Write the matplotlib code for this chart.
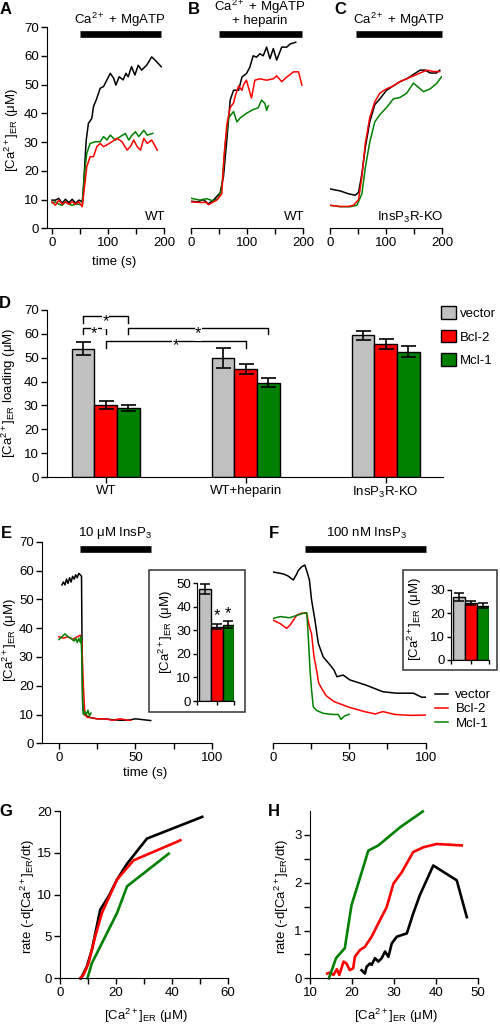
import matplotlib
matplotlib.use('Agg')
import matplotlib.pyplot as plt
from matplotlib.patches import Rectangle
from matplotlib.lines import Line2D

plt.rcParams['font.family'] = ['Liberation Sans', 'DejaVu Sans']
plt.rcParams['mathtext.fontset'] = 'custom'
plt.rcParams['mathtext.rm'] = 'Liberation Sans'
plt.rcParams['mathtext.it'] = 'Liberation Sans:italic'
plt.rcParams['mathtext.bf'] = 'Liberation Sans:bold'
plt.rcParams['mathtext.default'] = 'regular'
plt.rcParams['font.size'] = 9.5

W, H = 500, 1026
GRAY, RED, GREEN = '#c0c0c0', '#ff0000', '#008000'

# ---- data ----
# panel A: WT, Ca2+ + MgATP
a_vec_t = [0, 6, 12, 18, 24, 30, 36, 42, 48, 54, 56, 61, 65, 71, 74, 80, 86, 92, 98, 104, 110, 114, 120, 127, 132, 136,
           142, 148, 154, 160, 169, 178, 184, 195]
a_vec_y = [9.8, 9.8, 10.4, 8.7, 10.1, 8.9, 10.1, 8.7, 9.8, 9.2, 14, 30.6, 36.5, 38.2, 42.3, 45.2, 48.7, 49.3, 51.6, 53.9,
           52.2, 49.8, 52.7, 51.6, 53.9, 52.7, 56.2, 53.3, 56.7, 55, 56.7, 59.6, 58.5, 56.2]
a_bcl_t = [0, 6, 12, 18, 24, 30, 36, 42, 48, 54, 58, 62, 68, 74, 80, 86, 92, 98, 107, 116, 125, 134, 140, 146, 152, 158,
           164, 170, 178, 188]
a_bcl_y = [9.2, 8.0, 9.8, 8.4, 9.2, 8.4, 9.2, 8.4, 9.2, 7.5, 14.4, 21.4, 24.9, 24.9, 28.4, 29.5, 28.4, 29, 30.1, 31.3,
           30.1, 27.2, 28.4, 30.7, 28.4, 27.2, 31.3, 29.5, 30.7, 27.2]
a_mcl_t = [0, 6, 12, 18, 24, 30, 36, 42, 48, 54, 58, 62, 68, 77, 86, 92, 98, 104, 113, 122, 131, 137, 143, 149, 155, 164,
           170, 180]
a_mcl_y = [8.9, 9.2, 8.4, 8.0, 9.2, 8.4, 8.0, 8.4, 8.4, 8.0, 19.1, 26, 29.5, 30.1, 30.1, 31.9, 30.7, 32.4, 30.7, 31.9,
           33, 30.7, 32.4, 33.6, 31.9, 34.1, 32.4, 33]

# panel B: WT + heparin
b_vec_t = [1, 12, 22, 31, 40, 52, 58, 64, 70, 76, 85, 91, 99, 105, 111, 117, 123, 129, 135, 141, 147, 153, 162, 171,
           177, 187]
b_vec_y = [9.4, 9.2, 10, 8.5, 9.8, 12.3, 18, 30.8, 44.6, 48, 48, 52.6, 53.8, 56, 60, 59.5, 60.7, 60, 63, 59, 62.5, 58.5,
           63, 63, 64.1, 64.7]
b_bcl_t = [1, 15, 28, 31, 46, 55, 59, 64, 70, 76, 79, 85, 91, 94, 99, 108, 114, 123, 135, 147, 153, 162, 171, 183, 192,
           198]
b_bcl_y = [9.2, 9.0, 9.0, 8.2, 9.8, 12, 25, 36, 42, 43.6, 46, 49.5, 48, 50, 51.5, 45.3, 51.5, 52, 51.5, 52, 53, 51, 52.6,
           54.4, 54.4, 49.8]
b_mcl_t = [1, 16, 28, 40, 49, 55, 61, 67, 76, 82, 88, 99, 111, 120, 126, 132, 135, 138]
b_mcl_y = [10.4, 9.8, 10.3, 9.5, 10.5, 14, 29, 38.4, 40.6, 37, 38.4, 40, 41.3, 41.9, 44.6, 43.4, 41, 42.6]

# panel C: InsP3R-KO
c_vec_t = [0, 18, 33, 45, 51, 57, 63, 71, 80, 89, 101, 113, 125, 137, 149, 161, 170, 179, 190, 196]
c_vec_y = [13.7, 13, 12, 11.5, 12.5, 19, 28, 37, 43, 45, 48, 49.5, 51, 52, 53.5, 55, 55, 54, 54, 55]
c_bcl_t = [0, 18, 33, 42, 51, 57, 63, 71, 80, 89, 101, 113, 125, 137, 149, 161, 173, 185, 196]
c_bcl_y = [8, 7.6, 7.6, 8, 10, 18, 29.5, 38.5, 44, 47, 48.5, 49.5, 51, 52, 53, 54, 55, 54.5, 54.5]
c_mcl_t = [0, 18, 36, 48, 57, 63, 71, 80, 89, 101, 113, 125, 137, 149, 158, 167, 179, 191, 199]
c_mcl_y = [8, 7.5, 7.5, 8, 12, 21, 30, 37, 39.5, 42, 45, 45.5, 47, 50.5, 49, 47.5, 48.5, 50.5, 52.7]

# panel D: loading (mean, sem)
groups = ['WT', 'WT+heparin', 'InsP$_3$R-KO']
load_vec = [53.8, 49.7, 59.4]
load_vec_err = [2.7, 4.2, 1.9]
load_bcl = [30.2, 45.2, 55.7]
load_bcl_err = [1.7, 2.0, 2.1]
load_mcl = [28.8, 39.5, 52.5]
load_mcl_err = [1.3, 1.8, 2.4]
# significance brackets: x start, x end, height, leg bottom
sig_brackets = [(-0.162, 0.162, 67.3, 64.7), (-0.162, 0.0, 62.3, 59.8),
                (0.162, 1.162, 62.3, 59.8), (0.0, 1.0, 56.9, 54.1)]

# panel E: 10 uM InsP3
e_vec_t = [2, 3, 4, 5, 6, 7, 8, 9, 10, 11, 12, 13, 14, 14.8, 15.2, 15.6, 16.5, 20, 25, 30, 35, 40, 45, 50, 55, 60]
e_vec_y = [55, 56, 55, 57, 55.5, 57.5, 56, 58, 57, 58.5, 57.5, 59, 58.5, 58, 30, 12, 10, 9, 8.5, 8.5, 8.2, 8, 8, 8.5,
           8.2, 7.9]
e_bcl_t = [0, 3, 6, 9, 12, 14, 15, 16, 17, 18.5, 20, 25, 30, 35, 40, 45, 47]
e_bcl_y = [37, 36.5, 37, 36, 37, 37.5, 35, 20, 10, 9, 9, 8.5, 8.5, 8, 8.5, 8, 8]
e_mcl_t = [0, 2, 4, 6, 8, 10, 11, 12, 13, 14, 14.5, 15, 15.5, 16, 17, 18, 19, 20, 21]
e_mcl_y = [36, 37, 38, 37, 36.5, 35.5, 36.5, 35, 36.5, 35, 37, 30, 15, 10, 11, 10, 11.5, 9.5, 10.5]
e_inset = [47.5, 31.6, 32.3]
e_inset_err = [2.0, 1.2, 1.5]

# panel F: 100 nM InsP3
f_vec_t = [0, 7, 10, 13.5, 15.7, 16.7, 19, 21, 22.3, 24, 25.4, 27.6, 29.8, 33, 37.5, 40, 42, 46, 50.5, 61, 72, 81, 92,
           97.4, 100]
f_vec_y = [59.5, 58.8, 58.1, 56.7, 58.8, 60, 61.3, 61.9, 59.8, 56.7, 49.8, 42.8, 34.7, 30, 27.2, 25.5, 23.1, 23.7, 22,
           20.2, 17.9, 17.4, 17.4, 16, 16]
f_bcl_t = [0, 4.8, 9.1, 11.3, 15.7, 19, 22.2, 24, 25.4, 27, 28.7, 30, 32, 35, 40, 45, 50, 60, 67, 72, 80, 90, 100]
f_bcl_y = [42.8, 41.6, 39.9, 41, 44.5, 45.2, 45.1, 40.5, 38, 30, 25.4, 21, 19, 16.5, 14.5, 13.5, 12.5, 11, 10.2, 11, 10,
           9.7, 9.8]
f_mcl_t = [0, 4.8, 11, 21, 22.3, 23.5, 24.4, 25.4, 26.5, 28.7, 33, 39.6, 42.9, 44.6, 47, 49.9]
f_mcl_y = [43.3, 44, 43.6, 45.3, 45.3, 34.7, 25.4, 18.5, 12.7, 11.4, 10.4, 10, 10, 8.3, 9.5, 10.1]
f_inset = [26.9, 24.4, 23.3]
f_inset_err = [1.7, 0.8, 1.0]

# panel G: rate vs [Ca2+]ER, 10 uM InsP3
g_vec_x = [7.5, 9.6, 11.4, 14.4, 17.4, 20.4, 24, 31.1, 50.9]
g_vec_y = [0, 1.4, 3.4, 8.2, 9.8, 11.8, 13.7, 16.7, 19.3]
g_bcl_x = [7.2, 8.4, 10.2, 12.6, 15, 20.4, 26.3, 43.1]
g_bcl_y = [0, 0.4, 1.8, 5, 7.8, 11.8, 14.1, 16.5]
g_mcl_x = [9.8, 11.4, 14.4, 20.4, 24, 38.9]
g_mcl_y = [0, 1.8, 3.8, 7.8, 11, 14.9]

# panel H: rate vs [Ca2+]ER, 100 nM InsP3
h_vec_x = [22.3, 23.1, 23.5, 24.3, 24.7, 25.5, 26.3, 27.1, 27.9, 28.7, 29.5, 30.7, 33.1, 34.6, 36.2, 39.4, 45, 47.4]
h_vec_y = [0.17, 0.1, 0.24, 0.31, 0.28, 0.42, 0.35, 0.42, 0.56, 0.45, 0.73, 0.87, 0.94, 1.35, 1.74, 2.36, 2.05, 1.28]
h_bcl_x = [14.1, 14.8, 15.6, 16.4, 17, 18, 18.7, 19.5, 20.3, 20.7, 21.9, 23.1, 24.7, 26.3, 28.3, 29.9, 31.9, 34.6, 37,
           40.2, 46.2]
h_bcl_y = [0.1, 0.12, 0.07, 0.19, 0.07, 0.35, 0.31, 0.17, 0.21, 0.45, 0.59, 0.66, 0.87, 1.15, 1.49, 1.98, 2.22, 2.64,
           2.74, 2.81, 2.78]
h_mcl_x = [14.5, 15.2, 16.2, 17.2, 18.3, 19.9, 21.5, 23.9, 26.3, 31.5, 36.9]
h_mcl_y = [0, 0.17, 0.42, 0.52, 0.63, 1.53, 1.98, 2.67, 2.78, 3.16, 3.49]

stim_A, stim_B, stim_C = (50, 195), (50, 198), (46, 200)
stim_E, stim_F = (14, 60), (21, 100)

ca_er = 'Ca$^{2+}$'
conc_label = '[Ca$^{2+}$]$_{ER}$ (\u03bcM)'
rate_label = 'rate (-d[Ca$^{2+}$]$_{ER}$/dt)'

fig = plt.figure(figsize=(W / 100, H / 100), dpi=100)


def add_ax(x0, x1, ytop, ybot):
    return fig.add_axes([x0 / W, 1 - ybot / H, (x1 - x0) / W, (ybot - ytop) / H])


def style(ax, left=True):
    ax.spines['top'].set_visible(False)
    ax.spines['right'].set_visible(False)
    if not left:
        ax.spines['left'].set_visible(False)
        ax.tick_params(axis='y', left=False, labelleft=False)
    ax.tick_params(which='both', direction='out', length=4, width=1, labelsize=9.5, pad=2)
    ax.patch.set_alpha(0)


def put_label(ax, which, xpx, ypx):
    pos = ax.get_position()
    ax_x = (xpx / W - pos.x0) / pos.width
    ax_y = (1 - ypx / H - pos.y0) / pos.height
    axis = ax.xaxis if which == 'x' else ax.yaxis
    axis.set_label_coords(ax_x, ax_y)
    axis.label.set_va('center')
    axis.label.set_ha('center')


def stim_bar(ax, span, y):
    ax.plot(span, [y, y], color='k', lw=4.8, solid_capstyle='butt', clip_on=False)


def panel_letter(x, y, s):
    fig.text(x / W, 1 - y / H, s, fontsize=12, fontweight='bold', ha='center', va='center')


# ---- A, B, C ----
axA = add_ax(47, 164, 27, 228.3)
axB = add_ax(191, 303, 27, 228.3)
axC = add_ax(330, 442, 27, 228.3)
abc = [(axA, a_vec_t, a_vec_y, a_bcl_t, a_bcl_y, a_mcl_t, a_mcl_y, stim_A, (-9, 200), 'WT'),
       (axB, b_vec_t, b_vec_y, b_bcl_t, b_bcl_y, b_mcl_t, b_mcl_y, stim_B, (0, 200), 'WT'),
       (axC, c_vec_t, c_vec_y, c_bcl_t, c_bcl_y, c_mcl_t, c_mcl_y, stim_C, (0, 200), 'InsP$_3$R-KO')]
for ax, vt, vy, bt, by, mt, my, stim, xl, tag in abc:
    ax.plot(vt, vy, color='k', lw=1.1)
    ax.plot(mt, my, color=GREEN, lw=1.1)
    ax.plot(bt, by, color=RED, lw=1.1)
    ax.set_xlim(*xl)
    ax.set_ylim(0, 70)
    ax.set_xticks([0, 100, 200])
    ax.set_xticks([50, 150], minor=True)
    ax.set_yticks(range(0, 71, 10))
    style(ax, left=(ax is axA))
    stim_bar(ax, stim, 67.6)
    ax.text(203, 3.8, tag, ha='right', va='center', fontsize=9.5)

axA.set_ylabel(conc_label)
put_label(axA, 'y', 12, 130)
axA.set_xlabel('time (s)')
put_label(axA, 'x', 114, 262)
axA.text(121, 72.6, ca_er + ' + MgATP', ha='center', va='center', clip_on=False)
axB.text(123, 76.9, ca_er + ' + MgATP', ha='center', va='center', clip_on=False)
axB.text(123, 72.2, '+ heparin', ha='center', va='center', clip_on=False)
axC.text(123, 72.6, ca_er + ' + MgATP', ha='center', va='center', clip_on=False)

# ---- D ----
axD = add_ax(47, 443, 310, 477)
w = 0.162
xs = list(range(len(groups)))
ekw = dict(elinewidth=1.2, capthick=1.2)
bv = axD.bar([x - w for x in xs], load_vec, w, yerr=load_vec_err, color=GRAY, edgecolor='k', lw=1,
             capsize=5.4, error_kw=ekw, label='vector')
bb = axD.bar(xs, load_bcl, w, yerr=load_bcl_err, color=RED, edgecolor='k', lw=1,
             capsize=5.4, error_kw=ekw, label='Bcl-2')
bm = axD.bar([x + w for x in xs], load_mcl, w, yerr=load_mcl_err, color=GREEN, edgecolor='k', lw=1,
             capsize=5.4, error_kw=ekw, label='Mcl-1')
for x0, x1, yb, yl in sig_brackets:
    axD.plot([x0, x0, x1, x1], [yl, yb, yb, yl], color='k', lw=1, clip_on=False)
    axD.text((x0 + x1) / 2, yb - 2.0, '*', ha='center', va='center', fontsize=12,
             bbox=dict(fc='white', ec='none', pad=0.3))
axD.set_xlim(-0.42, 2.41)
axD.set_ylim(0, 70)
axD.set_yticks(range(0, 71, 10))
axD.set_xticks(xs)
axD.set_xticklabels(groups)
style(axD)
axD.set_ylabel('[Ca$^{2+}$]$_{ER}$ loading (\u03bcM)')
put_label(axD, 'y', 9, 393)
axD.legend(handles=[bv, bb, bm], loc='upper left', bbox_to_anchor=(441 / W, 1 - 306 / H),
           bbox_transform=fig.transFigure, frameon=False, handlelength=1.1, handleheight=1.1,
           handletextpad=0.35, labelspacing=0.75, borderpad=0, borderaxespad=0, fontsize=9.5)

# ---- E, F ----
axE = add_ax(42, 212, 541.7, 743.3)
axF = add_ax(272.7, 425.7, 541.7, 743.3)
ef = [(axE, e_vec_t, e_vec_y, e_bcl_t, e_bcl_y, e_mcl_t, e_mcl_y, stim_E, (-11, 100)),
      (axF, f_vec_t, f_vec_y, f_bcl_t, f_bcl_y, f_mcl_t, f_mcl_y, stim_F, (0, 100))]
for ax, vt, vy, bt, by, mt, my, stim, xl in ef:
    ax.plot(vt, vy, color='k', lw=1.1, label='vector')
    ax.plot(bt, by, color=RED, lw=1.1, label='Bcl-2')
    ax.plot(mt, my, color=GREEN, lw=1.1, label='Mcl-1')
    ax.set_xlim(*xl)
    ax.set_ylim(0, 70)
    ax.set_xticks([0, 50, 100])
    ax.set_xticks([25, 75], minor=True)
    ax.set_yticks(range(0, 71, 10))
    style(ax, left=(ax is axE))
    stim_bar(ax, stim, 67.4)
axE.set_ylabel(conc_label)
put_label(axE, 'y', 10, 640)
axE.set_xlabel('time (s)')
put_label(axE, 'x', 145, 773)
axE.text(36.5, 73, '10 \u03bcM InsP$_3$', ha='center', va='center', clip_on=False)
axF.text(61.6, 73, '100 nM InsP$_3$', ha='center', va='center', clip_on=False)
axF.legend(handles=[Line2D([], [], color=c, lw=1.1) for c in ('k', RED, GREEN)],
           labels=['vector', 'Bcl-2', 'Mcl-1'], loc='upper left',
           bbox_to_anchor=(435 / W, 1 - 689 / H), bbox_transform=fig.transFigure, frameon=False,
           handlelength=1.0, handletextpad=0.55, labelspacing=0.15, borderpad=0, borderaxespad=0,
           fontsize=9.5)

# insets
for box in [(149, 245, 570, 711.7), (403.3, 496.7, 570, 670)]:
    fig.patches.append(Rectangle((box[0] / W, 1 - box[3] / H), (box[1] - box[0]) / W, (box[3] - box[2]) / H,
                                 transform=fig.transFigure, fill=False, ec='#333333', lw=1.1))
axEi = add_ax(196.7, 234.3, 583.3, 701)
axFi = add_ax(450.7, 489.3, 590, 660)
for ax, vals, errs, top, lab_xy in [(axEi, e_inset, e_inset_err, 50, (166, 632)),
                                     (axFi, f_inset, f_inset_err, 30, (415, 619))]:
    ax.bar([0, 1, 2], vals, 1, yerr=errs, color=[GRAY, RED, GREEN], edgecolor='k', lw=1,
           capsize=3.6, error_kw=dict(elinewidth=1.1, capthick=1.1))
    ax.set_xlim(-0.72, 2.5)
    ax.set_ylim(0, top)
    ax.set_xticks([-0.72, 1, 2.5])
    ax.set_xticklabels([])
    ax.set_yticks(range(0, top + 1, 10))
    style(ax)
    ax.tick_params(length=3, pad=1)
    ax.set_ylabel(conc_label, fontsize=9.5)
    put_label(ax, 'y', *lab_xy)
for x in (1, 2):
    axEi.text(x, e_inset[x] + e_inset_err[x] + 0.3, '*', ha='center', va='bottom', fontsize=12)

# ---- G, H ----
axG = add_ax(60, 227.7, 811, 978.3)
axH = add_ax(310, 477.7, 811, 978.3)
for ax, series in [(axG, [(g_vec_x, g_vec_y, 'k'), (g_bcl_x, g_bcl_y, RED), (g_mcl_x, g_mcl_y, GREEN)]),
                   (axH, [(h_vec_x, h_vec_y, 'k'), (h_bcl_x, h_bcl_y, RED), (h_mcl_x, h_mcl_y, GREEN)])]:
    for xv, yv, c in series:
        ax.plot(xv, yv, color=c, lw=1.9, clip_on=False)
    style(ax)
    ax.set_xlabel(conc_label)
    ax.set_ylabel(rate_label)
axG.set_xlim(0, 60)
axG.set_ylim(0, 20)
axG.set_xticks([0, 20, 40, 60])
axG.set_xticks([10, 30, 50], minor=True)
axG.set_yticks([0, 5, 10, 15, 20])
put_label(axG, 'y', 28, 897)
put_label(axG, 'x', 146, 1016)
axH.set_xlim(10, 50)
axH.set_ylim(0, 3.5)
axH.set_xticks([10, 20, 30, 40, 50])
axH.set_yticks([0, 1, 2, 3])
axH.set_yticks([0.5, 1.5, 2.5], minor=True)
put_label(axH, 'y', 282, 897)
put_label(axH, 'x', 396, 1016)

for x, y, s in [(6, 9, 'A'), (194, 9, 'B'), (340, 9, 'C'), (5, 303, 'D'), (6, 534, 'E'), (274, 534, 'F'),
                (6, 812, 'G'), (274, 812, 'H')]:
    panel_letter(x, y, s)

fig.savefig('out.png', dpi=100)
